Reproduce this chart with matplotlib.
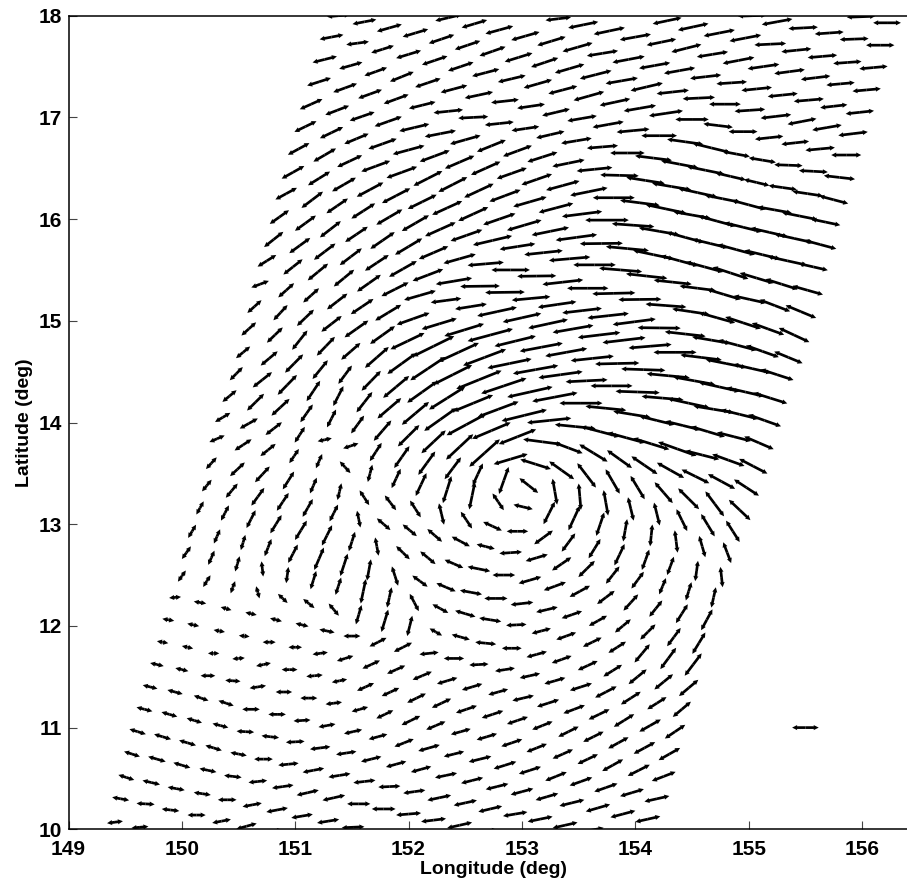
"""Double-headed wind arrows over a lon/lat swath, with a reference arrow."""
import numpy as np
import matplotlib
matplotlib.use("Agg")
import matplotlib.pyplot as plt

plt.rcParams["font.family"] = ["Liberation Sans", "DejaVu Sans"]

# one inner list per swath row, bottom row first
lon_rows = [
    [149.41,149.63],
    [149.46,149.68,149.90,150.13,150.35,150.57,150.79],
    [149.51,149.73,149.95,150.18,150.40,150.62,150.84,151.06,151.29,151.51,151.73],
    [149.56,149.78,150.00,150.23,150.45,150.67,150.89,151.11,151.34,151.56,151.78,152.00,152.22,152.45,152.67],
    [149.61,149.83,150.05,150.28,150.50,150.72,150.94,151.16,151.39,151.61,151.83,152.05,152.27,152.50,152.72,152.94,153.16,153.38,153.61],
    [149.67,149.89,150.11,150.34,150.56,150.78,151.00,151.22,151.45,151.67,151.89,152.11,152.33,152.56,152.78,153.00,153.22,153.44,153.67,153.89,154.11],
    [149.72,149.94,150.17,150.39,150.61,150.84,151.06,151.28,151.51,151.73,151.96,152.18,152.40,152.63,152.85,153.07,153.30,153.52,153.74,153.97,154.19],
    [149.78,150.00,150.23,150.45,150.67,150.90,151.12,151.34,151.57,151.79,152.02,152.24,152.46,152.69,152.91,153.13,153.36,153.58,153.80,154.03,154.25],
    [149.83,150.05,150.28,150.50,150.72,150.95,151.17,151.39,151.62,151.84,152.07,152.29,152.51,152.74,152.96,153.18,153.41,153.63,153.85,154.08,154.30],
    [149.88,150.10,150.33,150.55,150.77,151.00,151.22,151.44,151.67,151.89,152.12,152.34,152.56,152.79,153.01,153.23,153.46,153.68,153.90,154.13,154.35],
    [149.94,150.16,150.39,150.61,150.83,151.06,151.28,151.50,151.73,151.95,152.18,152.40,152.62,152.85,153.07,153.29,153.52,153.74,153.96,154.19,154.41],
    [150.00,150.22,150.45,150.67,150.89,151.12,151.34,151.56,151.79,152.01,152.24,152.46,152.68,152.91,153.13,153.35,153.58,153.80,154.02,154.25,154.47],
    [150.04,150.26,150.49,150.71,150.93,151.16,151.38,151.60,151.83,152.05,152.28,152.50,152.72,152.95,153.17,153.39,153.62,153.84,154.06,154.29,154.51],
    [150.09,150.31,150.54,150.76,150.98,151.21,151.43,151.65,151.88,152.10,152.33,152.55,152.77,153.00,153.22,153.44,153.67,153.89,154.11,154.34,154.56],
    [150.16,150.38,150.61,150.83,151.05,151.28,151.50,151.72,151.95,152.17,152.40,152.62,152.84,153.07,153.29,153.51,153.74,153.96,154.18,154.41,154.63],
    [150.22,150.44,150.67,150.89,151.11,151.34,151.56,151.78,152.01,152.23,152.46,152.68,152.90,153.13,153.35,153.57,153.80,154.02,154.24,154.47,154.69],
    [150.26,150.49,150.71,150.94,151.16,151.39,151.61,151.84,152.06,152.29,152.51,152.74,152.96,153.19,153.41,153.64,153.86,154.09,154.31,154.54,154.76],
    [150.31,150.54,150.76,150.99,151.21,151.44,151.66,151.89,152.11,152.34,152.56,152.79,153.01,153.24,153.46,153.69,153.91,154.14,154.36,154.59,154.81],
    [150.36,150.59,150.81,151.04,151.26,151.49,151.71,151.94,152.16,152.39,152.61,152.84,153.06,153.29,153.51,153.74,153.96,154.19,154.41,154.64,154.86],
    [150.42,150.65,150.87,151.10,151.32,151.55,151.77,152.00,152.22,152.45,152.67,152.90,153.12,153.35,153.57,153.80,154.02,154.25,154.47,154.70,154.92],
    [150.48,150.71,150.93,151.16,151.38,151.61,151.83,152.06,152.28,152.51,152.73,152.96,153.18,153.41,153.63,153.86,154.08,154.31,154.53,154.76,154.98],
    [150.54,150.77,150.99,151.22,151.44,151.67,151.89,152.12,152.34,152.57,152.79,153.02,153.24,153.47,153.69,153.92,154.14,154.37,154.59,154.82,155.04],
    [150.59,150.82,151.04,151.27,151.49,151.72,151.94,152.17,152.39,152.62,152.84,153.07,153.29,153.52,153.74,153.97,154.19,154.42,154.64,154.87,155.09],
    [150.64,150.87,151.09,151.32,151.54,151.77,151.99,152.22,152.44,152.67,152.89,153.12,153.34,153.57,153.79,154.02,154.24,154.47,154.69,154.92,155.14],
    [150.69,150.92,151.14,151.37,151.59,151.82,152.04,152.27,152.49,152.72,152.94,153.17,153.39,153.62,153.84,154.07,154.29,154.52,154.74,154.97,155.19],
    [150.75,150.98,151.20,151.43,151.65,151.88,152.10,152.33,152.55,152.78,153.00,153.23,153.45,153.68,153.90,154.13,154.35,154.58,154.80,155.03,155.25],
    [150.81,151.04,151.26,151.49,151.72,151.95,152.17,152.40,152.63,152.85,153.08,153.31,153.53,153.76,153.99,154.21,154.44,154.67,154.90,155.12,155.35],
    [150.86,151.09,151.31,151.54,151.77,152.00,152.22,152.45,152.68,152.90,153.13,153.36,153.58,153.81,154.04,154.27,154.49,154.72,154.95,155.17,155.40],
    [150.92,151.15,151.37,151.60,151.83,152.06,152.28,152.51,152.74,152.96,153.19,153.42,153.64,153.87,154.10,154.33,154.55,154.78,155.01,155.23,155.46],
    [150.98,151.21,151.43,151.66,151.89,152.12,152.34,152.57,152.80,153.02,153.25,153.48,153.70,153.93,154.16,154.39,154.61,154.84,155.07,155.29,155.52],
    [151.03,151.26,151.48,151.71,151.94,152.17,152.39,152.62,152.85,153.07,153.30,153.53,153.75,153.98,154.21,154.44,154.66,154.89,155.12,155.34,155.57],
    [151.09,151.32,151.54,151.77,152.00,152.23,152.45,152.68,152.91,153.13,153.36,153.59,153.81,154.04,154.27,154.50,154.72,154.95,155.18,155.40,155.63],
    [151.14,151.37,151.59,151.82,152.05,152.28,152.50,152.73,152.96,153.18,153.41,153.64,153.86,154.09,154.32,154.55,154.77,155.00,155.23,155.45,155.68],
    [151.21,151.44,151.66,151.89,152.12,152.35,152.57,152.80,153.03,153.25,153.48,153.71,153.93,154.16,154.39,154.62,154.84,155.07,155.30,155.52,155.75],
    [151.26,151.49,151.71,151.94,152.17,152.40,152.62,152.85,153.08,153.30,153.53,153.76,153.98,154.21,154.44,154.67,154.89,155.12,155.35,155.57,155.80],
    [151.32,151.55,151.77,152.00,152.23,152.46,152.68,152.91,153.14,153.36,153.59,153.82,154.04,154.27,154.50,154.73,154.95,155.18,155.41,155.63,155.86],
    [151.38,151.61,151.83,152.06,152.29,152.52,152.74,152.97,153.20,153.42,153.65,153.88,154.10,154.33,154.56,154.79,155.01,155.24,155.47,155.69,155.92],
    [152.35,152.58,152.80,153.03,153.26,153.49,153.71,153.94,154.17,154.39,154.62,154.85,155.07,155.30,155.53,155.75,155.98],
    [153.32,153.54,153.77,154.00,154.23,154.45,154.68,154.91,155.13,155.36,155.59,155.81,156.04],
    [154.28,154.51,154.74,154.97,155.19,155.42,155.65,155.87,156.10],
    [155.03,155.25,155.48,155.71,155.93,156.16],
    [155.99,156.22],
]

lat_rows = [
    [10.07,10.02],
    [10.30,10.25,10.19,10.14,10.08,10.03,9.98],
    [10.51,10.46,10.40,10.35,10.29,10.24,10.19,10.13,10.08,10.02,9.97],
    [10.74,10.69,10.63,10.58,10.52,10.47,10.42,10.36,10.31,10.25,10.20,10.15,10.09,10.04,9.98],
    [10.96,10.91,10.85,10.80,10.74,10.69,10.64,10.58,10.53,10.47,10.42,10.37,10.31,10.26,10.20,10.15,10.10,10.04,9.99],
    [11.18,11.13,11.07,11.02,10.96,10.91,10.86,10.80,10.75,10.69,10.64,10.59,10.53,10.48,10.42,10.37,10.32,10.26,10.21,10.15,10.10],
    [11.40,11.35,11.29,11.24,11.18,11.13,11.07,11.02,10.96,10.91,10.85,10.80,10.74,10.69,10.63,10.58,10.52,10.47,10.41,10.36,10.30],
    [11.62,11.57,11.51,11.46,11.40,11.35,11.29,11.24,11.18,11.13,11.07,11.02,10.96,10.91,10.85,10.80,10.74,10.69,10.63,10.58,10.52],
    [11.84,11.79,11.73,11.68,11.62,11.57,11.51,11.46,11.40,11.35,11.29,11.24,11.18,11.13,11.07,11.02,10.96,10.91,10.85,10.80,10.74],
    [12.06,12.01,11.95,11.90,11.84,11.79,11.73,11.68,11.62,11.57,11.51,11.46,11.40,11.35,11.29,11.24,11.18,11.13,11.07,11.02,10.96],
    [12.28,12.23,12.17,12.12,12.06,12.01,11.95,11.90,11.84,11.79,11.73,11.68,11.62,11.57,11.51,11.46,11.40,11.35,11.29,11.24,11.18],
    [12.49,12.44,12.38,12.33,12.27,12.22,12.16,12.11,12.05,12.00,11.94,11.89,11.83,11.78,11.72,11.67,11.61,11.56,11.50,11.45,11.39],
    [12.72,12.67,12.61,12.56,12.50,12.45,12.39,12.34,12.28,12.23,12.17,12.12,12.06,12.01,11.95,11.90,11.84,11.79,11.73,11.68,11.62],
    [12.93,12.88,12.82,12.77,12.71,12.66,12.60,12.55,12.49,12.44,12.38,12.33,12.27,12.22,12.16,12.11,12.05,12.00,11.94,11.89,11.83],
    [13.16,13.11,13.05,13.00,12.94,12.89,12.83,12.78,12.72,12.67,12.61,12.56,12.50,12.45,12.39,12.34,12.28,12.23,12.17,12.12,12.06],
    [13.38,13.33,13.27,13.22,13.16,13.11,13.05,13.00,12.94,12.89,12.83,12.78,12.72,12.67,12.61,12.56,12.50,12.45,12.39,12.34,12.28],
    [13.60,13.54,13.49,13.43,13.38,13.32,13.26,13.21,13.15,13.10,13.04,12.98,12.93,12.87,12.82,12.76,12.70,12.65,12.59,12.54,12.48],
    [13.84,13.78,13.73,13.67,13.62,13.56,13.50,13.45,13.39,13.34,13.28,13.22,13.17,13.11,13.06,13.00,12.94,12.89,12.83,12.78,12.72],
    [14.05,13.99,13.94,13.88,13.83,13.77,13.71,13.66,13.60,13.55,13.49,13.43,13.38,13.32,13.27,13.21,13.15,13.10,13.04,12.99,12.93],
    [14.26,14.20,14.15,14.09,14.04,13.98,13.92,13.87,13.81,13.76,13.70,13.64,13.59,13.53,13.48,13.42,13.36,13.31,13.25,13.20,13.14],
    [14.48,14.42,14.37,14.31,14.26,14.20,14.14,14.09,14.03,13.98,13.92,13.86,13.81,13.75,13.70,13.64,13.58,13.53,13.47,13.42,13.36],
    [14.69,14.63,14.58,14.52,14.47,14.41,14.35,14.30,14.24,14.19,14.13,14.07,14.02,13.96,13.91,13.85,13.79,13.74,13.68,13.63,13.57],
    [14.92,14.86,14.81,14.75,14.70,14.64,14.58,14.53,14.47,14.42,14.36,14.30,14.25,14.19,14.14,14.08,14.02,13.97,13.91,13.86,13.80],
    [15.14,15.08,15.03,14.97,14.92,14.86,14.80,14.75,14.69,14.64,14.58,14.52,14.47,14.41,14.36,14.30,14.24,14.19,14.13,14.08,14.02],
    [15.36,15.30,15.25,15.19,15.14,15.08,15.02,14.97,14.91,14.86,14.80,14.74,14.69,14.63,14.58,14.52,14.46,14.41,14.35,14.30,14.24],
    [15.59,15.53,15.48,15.42,15.37,15.31,15.25,15.20,15.14,15.09,15.03,14.97,14.92,14.86,14.81,14.75,14.69,14.64,14.58,14.53,14.47],
    [15.80,15.74,15.68,15.63,15.57,15.51,15.45,15.39,15.34,15.28,15.22,15.16,15.10,15.05,14.99,14.93,14.87,14.81,14.76,14.70,14.64],
    [16.02,15.96,15.90,15.85,15.79,15.73,15.67,15.61,15.56,15.50,15.44,15.38,15.32,15.27,15.21,15.15,15.09,15.03,14.98,14.92,14.86],
    [16.25,16.19,16.13,16.08,16.02,15.96,15.90,15.84,15.79,15.73,15.67,15.61,15.55,15.50,15.44,15.38,15.32,15.26,15.21,15.15,15.09],
    [16.46,16.40,16.34,16.29,16.23,16.17,16.11,16.05,16.00,15.94,15.88,15.82,15.76,15.71,15.65,15.59,15.53,15.47,15.42,15.36,15.30],
    [16.69,16.63,16.57,16.52,16.46,16.40,16.34,16.28,16.23,16.17,16.11,16.05,15.99,15.94,15.88,15.82,15.76,15.70,15.65,15.59,15.53],
    [16.91,16.85,16.79,16.74,16.68,16.62,16.56,16.50,16.45,16.39,16.33,16.27,16.21,16.16,16.10,16.04,15.98,15.92,15.87,15.81,15.75],
    [17.13,17.07,17.01,16.96,16.90,16.84,16.78,16.72,16.67,16.61,16.55,16.49,16.43,16.38,16.32,16.26,16.20,16.14,16.09,16.03,15.97],
    [17.35,17.29,17.23,17.18,17.12,17.06,17.00,16.94,16.89,16.83,16.77,16.71,16.65,16.60,16.54,16.48,16.42,16.36,16.31,16.25,16.19],
    [17.57,17.51,17.45,17.40,17.34,17.28,17.22,17.16,17.11,17.05,16.99,16.93,16.87,16.82,16.76,16.70,16.64,16.58,16.53,16.47,16.41],
    [17.79,17.73,17.67,17.62,17.56,17.50,17.44,17.38,17.33,17.27,17.21,17.15,17.09,17.04,16.98,16.92,16.86,16.80,16.75,16.69,16.63],
    [18.00,17.94,17.88,17.83,17.77,17.71,17.65,17.59,17.54,17.48,17.42,17.36,17.30,17.25,17.19,17.13,17.07,17.01,16.96,16.90,16.84],
    [17.98,17.92,17.86,17.80,17.75,17.69,17.63,17.57,17.51,17.46,17.40,17.34,17.28,17.22,17.17,17.11,17.05],
    [17.97,17.91,17.85,17.79,17.74,17.68,17.62,17.56,17.50,17.45,17.39,17.33,17.27],
    [17.95,17.89,17.83,17.78,17.72,17.66,17.60,17.54,17.49],
    [18.00,17.94,17.88,17.83,17.77,17.71],
    [17.99,17.93],
]

u_rows = [
    [.14,.15],
    [.15,.16,.155,.16,.165,.18,.19],
    [.14,.155,.15,.15,.165,.17,.19,.19,.195,.2,.2],
    [.14,.155,.15,.15,.155,.165,.19,.195,.2,.205,.21,.22,.22,.22,.22],
    [.145,.15,.15,.145,.145,.165,.18,.19,.195,.195,.195,.195,.21,.205,.21,.215,.22,.22,.22],
    [.14,.14,.135,.14,.155,.155,.165,.18,.18,.18,.18,.18,.195,.195,.2,.2,.2,.22,.215,.22,.22],
    [.13,.135,.13,.135,.155,.155,.15,.15,.16,.165,.17,.19,.18,.2,.2,.195,.19,.2,.205,.21,.22],
    [.12,.115,.13,.135,.145,.145,.15,.145,.145,.15,.165,.17,.175,.18,.185,.18,.18,.18,.185,.195,.21],
    [.1,.1,.1,.11,.13,.14,.145,.135,.15,.155,.165,.17,.185,.19,.185,.18,.18,.18,.18,.19,.19],
    [.105,.105,.1,.095,.115,.12,.135,.145,.155,.16,.17,.18,.18,.175,.19,.195,.19,.185,.18,.19,.18],
    [.105,.11,.095,.1,.105,.115,.135,.15,.15,.16,.17,.18,.17,.175,.18,.185,.195,.19,.175,.17,.16],
    [.07,.065,.04,.03,.085,.1,.09,.05,.06,.045,.11,.16,.185,.175,.18,.175,.175,.165,.16,.165,.17],
    [.08,.055,.04,.015,.02,.05,.05,.045,.04,.08,.14,.18,.195,.18,.17,.175,.165,.155,.135,.14,.15],
    [.07,.055,.04,.06,.085,.085,.065,.035,.055,.135,.17,.195,.205,.2,.19,.18,.16,.14,.135,.12,.115],
    [.065,.07,.08,.1,.105,.09,.055,.03,.12,.135,.165,.2,.2,.2,.195,.18,.155,.13,.115,.105,.1],
    [.085,.105,.115,.105,.09,.075,.03,.12,.125,.13,.16,.16,.2,.195,.17,.145,.12,.11,.06,.05,.04],
    [.095,.13,.13,.1,.06,.035,.085,.1,.095,.045,.1,.165,.19,.165,.12,.105,.09,.065,.06,.025,.02],
    [.135,.15,.135,.085,.055,.095,.04,.08,.095,.075,.05,.1,.17,.1,.1,.07,.035,.02,.025,.055,.07],
    [.135,.16,.145,.09,.125,.135,.105,.135,.15,.145,.09,.085,.165,.04,.02,.04,.05,.05,.095,.12,.12],
    [.125,.15,.16,.11,.08,.115,.155,.19,.215,.24,.27,.3,.27,.22,.165,.125,.125,.16,.185,.165,.19],
    [.115,.17,.17,.12,.09,.14,.21,.24,.285,.35,.34,.33,.34,.25,.25,.22,.23,.24,.245,.24,.22],
    [.125,.15,.16,.135,.12,.17,.23,.265,.32,.35,.36,.4,.39,.36,.34,.33,.32,.34,.3,.285,.25],
    [.13,.14,.135,.16,.17,.21,.255,.31,.34,.4,.4,.4,.4,.38,.36,.33,.31,.31,.3,.3,.26],
    [.125,.125,.15,.18,.21,.22,.3,.365,.36,.38,.39,.4,.39,.37,.37,.39,.37,.37,.355,.33,.29],
    [.155,.14,.14,.18,.2,.23,.29,.31,.35,.4,.365,.38,.37,.38,.39,.39,.38,.37,.36,.33,.3],
    [.165,.17,.18,.18,.21,.24,.28,.27,.28,.35,.34,.35,.36,.375,.38,.38,.38,.365,.36,.335,.29],
    [.17,.185,.19,.195,.21,.245,.27,.32,.35,.35,.34,.34,.35,.365,.38,.38,.36,.34,.34,.29,.25],
    [.17,.185,.185,.2,.215,.24,.26,.285,.32,.34,.345,.36,.365,.38,.38,.36,.33,.32,.315,.285,.27],
    [.19,.19,.19,.21,.23,.24,.27,.28,.345,.315,.34,.365,.375,.38,.365,.335,.32,.3,.285,.27,.27],
    [.2,.195,.21,.235,.25,.255,.265,.265,.285,.305,.33,.365,.38,.38,.36,.33,.33,.315,.3,.285,.27],
    [.19,.2,.22,.255,.27,.255,.255,.26,.275,.295,.305,.355,.385,.375,.36,.33,.315,.33,.315,.345,.255],
    [.195,.205,.215,.25,.28,.265,.26,.26,.265,.27,.295,.33,.37,.35,.36,.33,.33,.33,.33,.345,.285],
    [.2,.21,.22,.24,.265,.275,.27,.255,.255,.265,.285,.315,.34,.34,.345,.345,.315,.3,.3,.315,.255],
    [.21,.21,.21,.22,.235,.26,.265,.255,.245,.25,.27,.275,.305,.325,.33,.33,.27,.225,.25,.27,.255],
    [.215,.205,.2,.21,.225,.235,.25,.245,.245,.245,.26,.275,.29,.315,.32,.33,.24,.24,.25,.255,.275],
    [.21,.2,.2,.22,.225,.225,.24,.245,.25,.255,.27,.27,.285,.3,.295,.26,.255,.25,.245,.26,.265],
    [.2,.21,.22,.225,.225,.225,.23,.245,.24,.26,.28,.285,.285,.285,.285,.28,.27,.27,.255,.26,.26],
    [.23,.225,.245,.25,.25,.265,.275,.285,.275,.275,.275,.27,.27,.265,.265,.24,.25],
    [.225,.265,.275,.275,.26,.265,.275,.28,.28,.27,.26,.25,.25],
    [.255,.27,.275,.28,.28,.265,.26,.25,.25],
    [.25,.27,.26,.255,.255,.25],
    [.25,.245],
]

v_rows = [
    [.02,.015],
    [-.03,-.01,-.02,0,.035,.055,.03],
    [-.05,-.04,-.03,-.025,0,.035,.04,.035,.035,.01,0],
    [-.05,-.05,-.05,-.035,-.02,.02,.03,.05,.05,0,0,.02,.03,.055,.03],
    [-.05,-.05,-.05,-.05,-.03,0,.02,.04,.035,.025,.01,.03,.05,.05,.055,.04,.05,.055,.05],
    [-.04,-.045,-.045,-.04,-.01,-.02,.01,.025,.03,.05,.055,.055,.045,.055,.055,.06,.065,.06,.07,.065,.055],
    [-.035,-.04,-.05,-.05,0,0,.01,.03,.04,.05,.075,.06,.05,.055,.07,.07,.085,.08,.08,.07,.055],
    [-.03,-.03,0,-.01,.025,0,0,.02,.045,.08,.09,.08,.055,.06,.07,.08,.09,.095,.115,.11,.09],
    [-.02,-.025,0,.01,.03,0,.015,.03,.075,.08,.09,.09,.07,.07,.07,.08,.1,.1,.11,.115,.12],
    [-.02,-.025,-.02,-.01,0,0,.02,.05,.08,.08,.08,.06,.06,.055,.05,.07,.08,.1,.125,.12,.135],
    [.01,-.02,-.03,-.025,-.03,-.03,-.03,0,.085,.09,.02,0,.01,.03,.045,.06,.07,.11,.125,.12,.15],
    [.11,.115,.12,-.12,-.09,-.09,-.12,.19,.22,.2,-.07,-.05,-.02,0,.055,.07,.09,.115,.145,.15,.16],
    [.125,.14,.15,-.15,.16,.18,.17,.24,.2,-.17,-.085,-.06,-.035,.01,.05,.07,.09,.11,.18,.21,.22],
    [.13,.14,.15,.17,.18,.22,.22,.21,-.19,-.11,-.08,-.04,0,.025,.05,.07,.1,.13,.15,.18,.21],
    [.13,.15,.175,.18,.19,.2,.19,-.18,-.13,-.125,-.08,-.045,0,.065,.08,.11,.13,.16,.16,.185,.205],
    [.115,.14,.175,.175,.175,.165,-.165,-.115,-.115,-.125,-.095,-.045,.015,.065,.13,.16,.17,.165,.16,.18,.2],
    [.115,.135,.155,.175,.155,.165,-.145,-.145,-.165,-.21,-.165,-.085,0,.135,.18,.19,.21,.2,.18,.2,-.2],
    [.065,.11,.12,.14,.14,-.115,.17,.19,.225,.265,.27,-.165,-.045,.22,.24,.23,.22,.215,-.22,-.21,-.205],
    [.09,.1,.125,.155,.03,.05,.18,.215,.23,.215,.215,.265,-.145,-.255,-.26,-.25,-.23,-.225,-.215,-.22,-.21],
    [.115,.165,.165,.175,.175,.175,.2,.21,.225,.25,.27,.1,-.095,-.175,-.24,-.24,-.23,-.205,-.205,-.245,-.2],
    [.13,.15,.195,.2,.195,.2,.2,.225,.225,.21,.16,.145,-.05,-.105,-.17,-.175,-.175,-.15,-.135,-.145,-.16],
    [.115,.14,.18,.185,.18,.195,.215,.21,.225,.16,.15,.11,.045,-.04,-.1,-.1,-.11,-.135,-.085,-.115,-.145],
    [.13,.15,.19,.185,.165,.205,.205,.23,.19,.18,.15,.1,.085,0,-.04,-.06,-.085,-.085,-.1,-.085,-.125],
    [.125,.15,.16,.155,.165,.175,.16,.2,.185,.16,.09,.08,.06,.02,0,-.015,-.035,-.09,-.065,-.09,-.115],
    [.065,.14,.14,.155,.15,.155,.115,.105,.12,.12,.1,.08,.075,.045,.01,-.015,-.04,-.075,-.09,-.085,-.105],
    [.115,.15,.165,.165,.165,.135,.09,.04,.05,.085,.085,.085,.07,.05,.05,.035,0,-.05,-.08,-.085,-.105],
    [.15,.15,.16,.165,.155,.155,.115,.06,.005,.005,.035,.055,.045,.045,.055,-.005,-.045,-.065,-.1,-.115,-.115],
    [.135,.15,.16,.15,.165,.16,.125,.09,.03,0,.005,.045,0,.01,.005,-.03,-.055,-.1,-.115,-.115,-.14],
    [.115,.16,.145,.15,.15,.155,.135,.11,.09,.055,.04,.035,0,-.035,-.045,-.04,-.045,-.1,-.07,-.115,-.125],
    [.125,.135,.135,.14,.145,.14,.135,.135,.11,.1,.075,.055,.005,-.04,-.085,-.1,-.1,-.115,-.1,-.1,-.085],
    [.115,.13,.115,.105,.11,.145,.145,.135,.115,.095,.09,.05,0,-.03,-.07,-.1,-.085,-.1,-.085,-.085,-.065],
    [.105,.11,.1,.1,.085,.11,.125,.13,.105,.105,.09,.075,0,-.05,-.085,-.065,-.1,-.09,-.085,-.085,-.085],
    [.1,.09,.085,.095,.07,.06,.085,.115,.105,.095,.065,.035,-.01,-.06,-.065,-.085,-.07,-.09,-.06,-.07,-.06],
    [.075,.085,.085,.09,.065,.03,.015,.03,.04,.065,.05,.025,0,-.045,-.07,-.075,-.07,-.06,-.04,-.045,-.075],
    [.06,.065,.08,.095,.085,.07,.06,.03,.04,.065,.05,.055,.03,0,-.05,-.09,-.05,-.045,-.01,-.015,-.035],
    [.045,.03,.07,.075,.085,.085,.07,.065,.08,.075,.085,.065,.055,.05,0,-.035,0,.03,.03,.027,0],
    [.02,.045,.07,.075,.085,.085,.09,.085,.09,.085,.08,.055,.075,.035,.015,0,.02,.035,.055,.05,.035],
    [.06,.075,.075,.08,.085,.085,.05,.06,.055,.055,.035,.02,.03,.03,.025,.03,.03],
    [.03,.06,.065,.055,.06,.075,.05,.06,.045,.04,.035,.025,.025],
    [.06,.065,.06,.06,.015,.03,.025,.02,.025],
    [.01,.055,.015,.02,.01,0],
    [.01,0],
]

# reference arrow drawn in the empty lower right
key_lon = [155.50]
key_lat = [11.00]
key_u = [.235]
key_v = [0.0]

xticks = [149, 150, 151, 152, 153, 154, 155, 156]
yticks = [10, 11, 12, 13, 14, 15, 16, 17, 18]


def double_arrows(ax, x, y, u, v):
    # the arrows have a head at both ends, so draw each half from the centre
    kw = dict(angles="xy", scale_units="xy", scale=1, pivot="tail", units="dots",
              width=2.7, headwidth=1.9, headlength=1.9, headaxislength=1.8,
              minshaft=1, minlength=0.5, color="black")
    ax.quiver(x, y, u / 2, v / 2, **kw)
    ax.quiver(x, y, -u / 2, -v / 2, **kw)


def main():
    for a, b, c, d in zip(lon_rows, lat_rows, u_rows, v_rows):
        assert len(a) == len(b) == len(c) == len(d), (a[0], len(a), len(b), len(c), len(d))

    lon = np.concatenate(lon_rows)
    lat = np.concatenate(lat_rows)
    u = np.concatenate(u_rows)
    v = np.concatenate(v_rows)

    fig = plt.figure(figsize=(9.07, 8.83), dpi=100)
    ax = fig.add_axes([68.5 / 907, (883 - 829.3) / 883, 1 - 68.5 / 907, 813.6 / 883])

    double_arrows(ax, lon, lat, u, v)
    double_arrows(ax, np.array(key_lon), np.array(key_lat), np.array(key_u), np.array(key_v))

    ax.set_xlim(149, 156.396)
    ax.set_ylim(10, 18)
    ax.set_xticks(xticks)
    ax.set_yticks(yticks)
    ax.tick_params(direction="in", length=5.8, width=0.8, color="#444444", labelsize=15, pad=5)
    ax.tick_params(axis="x", pad=7.5)
    for lab in ax.get_xticklabels() + ax.get_yticklabels():
        lab.set_fontweight("bold")
    ax.spines["right"].set_visible(False)
    for side in ["left", "bottom", "top"]:
        ax.spines[side].set_linewidth(1.1)

    ax.set_xlabel("Longitude (deg)", fontsize=14, fontweight="bold", labelpad=1)
    ax.xaxis.set_label_coords(0.507, -0.039, transform=ax.transAxes)
    ax.set_ylabel("Latitude (deg)", fontsize=14, fontweight="bold", labelpad=4)

    fig.savefig("out.png", dpi=100)
    plt.close(fig)


if __name__ == "__main__":
    main()
